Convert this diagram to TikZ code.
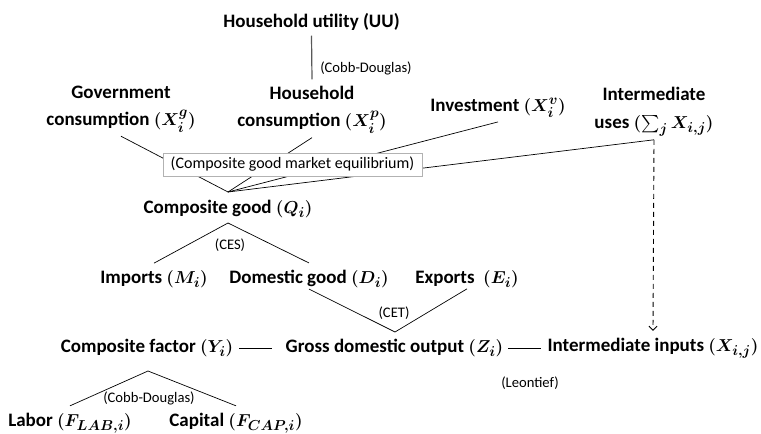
\documentclass[tikz,border=0pt]{standalone}
\usepackage{amsmath}
\usepackage{bm}
\usepackage{fontspec}
\setmainfont{Carlito}
\usetikzlibrary{arrows.meta}
\newcommand\bmth[1]{{\boldmath$#1$}}
\begin{document}
\begin{tikzpicture}[x=1pt,y=-1pt,
  big/.style={font=\fontsize{19}{27}\selectfont\bfseries, inner sep=1pt, align=center},
  small/.style={font=\fontsize{14.6}{16}\selectfont, inner sep=1pt},
  link/.style={draw=black, line width=0.7pt},
  dashlink/.style={draw=black, line width=0.9pt, dash pattern=on 5pt off 4pt, -{Straight Barb[length=4pt,width=8pt]}}]
\useasboundingbox (0,0) rectangle (761,434);
% main nodes
\node[big] (uu) at (311.5,22) {Household utility (UU)};
\node[big] (gov) at (121,109) {Government\\consumption \bmth{(X_i^g)}};
\node[big] (hh) at (312,110) {Household\\consumption \bmth{(X_i^p)}};
\node[big] (inv) at (498,108) {Investment \bmth{(X_i^v)}};
\node[big, font=\fontsize{19}{28}\selectfont\bfseries] (imu) at (654,112) {Intermediate\\uses \bmth{(\sum_{j} X_{i,j})}};
\node[big] (q) at (228,209) {Composite good \bmth{(Q_i)}};
\node[big] (m) at (154,279) {Imports \bmth{(M_i)}};
\node[big] (d) at (309,279) {Domestic good \bmth{(D_i)}};
\node[big] (e) at (467,279) {Exports\ \ \bmth{(E_i)}};
\node[big] (y) at (147,348) {Composite factor \bmth{(Y_i)}};
\node[big] (z) at (394.5,348) {Gross domestic output \bmth{(Z_i)}};
\node[big] (xij) at (653,348) {Intermediate inputs \bmth{(X_{i,j})}};
\node[big] (lab) at (70,423) {Labor \bmth{(F_{LAB,i})}};
\node[big] (cap) at (236,423) {Capital \bmth{(F_{CAP,i})}};
% apexes
\coordinate (apexQ) at (228,192);
\coordinate (apexCES) at (228,223);
\coordinate (apexCET) at (395,332);
\coordinate (apexCD) at (148,371);
% connectors
\draw[draw=gray!70!black, line width=1.2pt] ([yshift=-4pt]uu.south) -- ([yshift=6pt]hh.north);
\draw[link] ([yshift=-3pt]gov.south) -- (apexQ);
\draw[link] ([yshift=-3pt]hh.south) -- (apexQ);
\draw[link] ([yshift=-3pt]inv.south) -- (apexQ);
\draw[link] ([yshift=-2pt]imu.south) -- (apexQ);
\node[font=\fontsize{16}{18}\selectfont, inner sep=1pt, draw=gray!60, fill=white, minimum width=259pt, minimum height=23pt] (mkt) at (292.5,164.5) {(Composite good market equilibrium)};
\draw[dashlink] ([yshift=-2pt]imu.south) -- ([yshift=6pt]xij.north);
\draw[link] ([yshift=6pt]m.north) -- (apexCES) -- ([yshift=6pt]d.north);
\draw[link] (d.south) -- (apexCET) -- (e.south);
\draw[link] ([xshift=5pt]y.east) -- ([xshift=-13pt]z.west);
\draw[link] ([xshift=4pt]z.east) -- ([xshift=-5pt]xij.west);
\draw[link] ([yshift=6pt]lab.north) -- (apexCD) -- ([yshift=6pt]cap.north);
% labels
\node[small] (cd1) at (366,68) {(Cobb-Douglas)};
\node[small] (ces) at (230,245) {(CES)};
\node[small] (cet) at (394,313) {(CET)};
\node[small] (leo) at (530,383) {(Leontief)};
\node[small] (cd2) at (149,398) {(Cobb-Douglas)};
\end{tikzpicture}
\end{document}
